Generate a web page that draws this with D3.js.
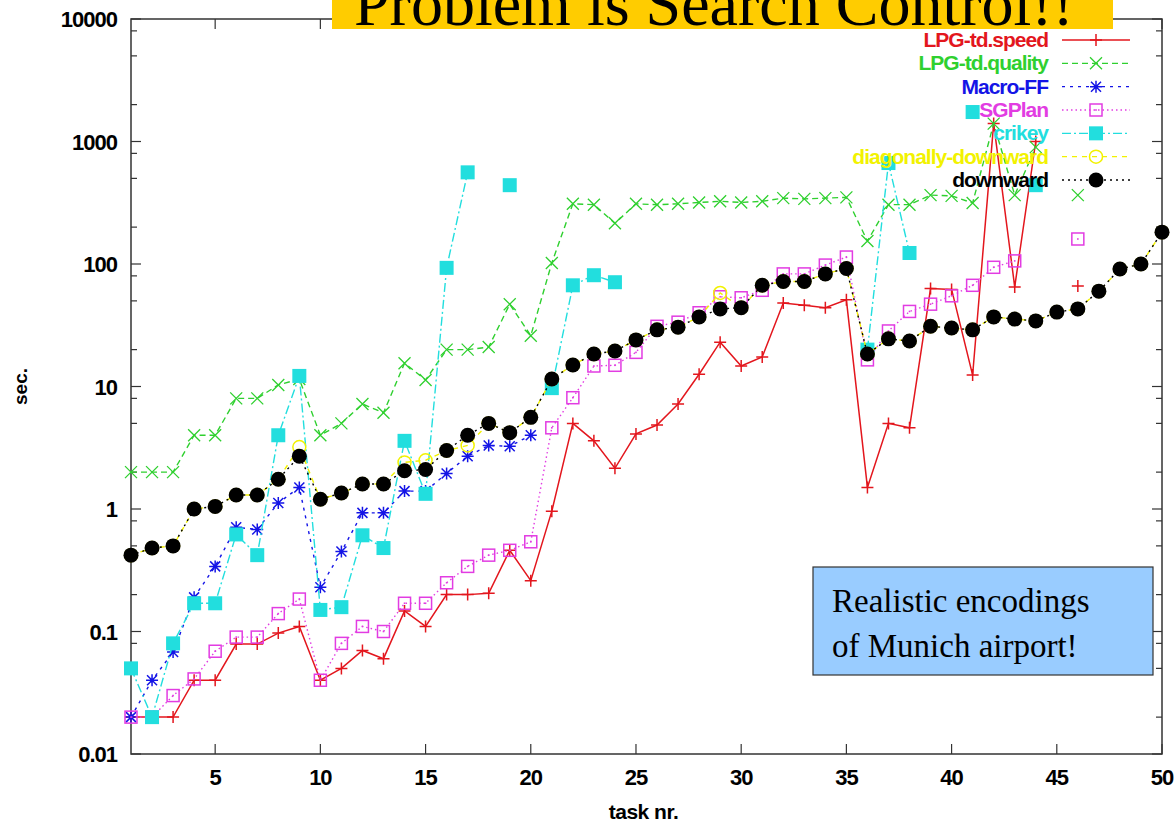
<!DOCTYPE html>
<html>
<head>
<meta charset="utf-8">
<script src="https://cdn.jsdelivr.net/npm/d3@7"></script>
<style>
  body { margin: 0; background: #fff; }
  svg { display: block; }
</style>
</head>
<body>
<div id="chart"></div>
<script>

/* DATA *******************************************************************/

var tasks = [1,2,3,4,5,6,7,8,9,10,11,12,13,14,15,16,17,18,19,20,21,22,23,24,25,
             26,27,28,29,30,31,32,33,34,35,36,37,38,39,40,41,42,43,44,45,46,47,48,49,50];

// null = task not solved
var lpgSpeed = [0.02,0.02,0.02,0.04,0.04,0.079,0.079,0.097,0.11,0.04,
                0.05,0.07,0.06,0.147,0.11,0.2,0.2,0.205,0.46,0.26,
                0.96,5.0,3.6,2.15,4.1,4.85,7.2,12.6,23,14.7,
                17.4,48,46,44,51,1.5,5.0,4.6,63,62,
                12.4,1400,65,1000,null,66,null,null,null,null];

var lpgQuality = [2,2,2,4,4,8,8,10.3,11.5,4,
                  5,7.2,6.1,15.5,11.3,20,20,21,47,26,
                  102,310,305,215,310,305,310,318,325,318,
                  325,345,340,345,350,154,305,305,365,360,
                  315,1400,365,900,null,365,null,null,null,null];

var macroFF = [0.02,0.04,0.068,0.19,0.34,0.71,0.68,1.12,1.5,0.23,
               0.45,0.93,0.93,1.4,1.4,1.95,2.7,3.3,3.25,4.0,
               null,null,null,null,null,null,null,null,null,null,
               null,null,null,null,null,null,null,null,null,null,
               null,null,null,null,null,null,null,null,null,null];

var sgPlan = [0.02,0.02,0.03,0.041,0.069,0.09,0.09,0.14,0.184,0.04,
              0.08,0.11,0.1,0.17,0.17,0.25,0.34,0.42,0.46,0.54,
              4.6,8.1,14.7,14.9,19,31,33.5,40,54,53,
              61,83,83,98,114,16.5,28.4,41,47,55,
              67,94,106,null,null,160,null,null,null,null];

var crikey = [0.05,0.02,0.08,0.17,0.17,0.62,0.42,4.0,12.2,0.15,
              0.158,0.61,0.48,3.6,1.33,93,560,null,440,null,
              9.7,67,81,71,null,null,null,null,null,null,
              null,null,null,null,null,20,667,123,null,null,
              1740,null,null,440,null,null,null,null,null,null];

var diagDownward = [0.42,0.48,0.5,1.0,1.05,1.3,1.3,1.75,3.2,1.2,
                    1.35,1.6,1.6,2.4,2.5,3.0,3.3,5.0,4.2,5.6,
                    11.5,15,18.4,19.5,24,29,30.5,37,58,44,
                    67,72,72,83,92,18.4,24.5,23.5,31,30,
                    29,37,35.5,34.3,40.5,43,60,91,100,182];

var downward = [0.42,0.48,0.5,1.0,1.05,1.3,1.3,1.75,2.7,1.2,
                1.35,1.6,1.6,2.05,2.1,3.0,4.0,5.0,4.2,5.6,
                11.5,15,18.4,19.5,24,29,30.5,37,43,44,
                67,72,72,83,92,18.4,24.5,23.5,31,30,
                29,37,35.5,34.3,40.5,43,60,91,100,182];

var seriesNames = ["LPG-td.speed","LPG-td.quality","Macro-FF","SGPlan","crikey","diagonally-downward","downward"];
var seriesValues = [lpgSpeed, lpgQuality, macroFF, sgPlan, crikey, diagDownward, downward];

var xTicks = [5,10,15,20,25,30,35,40,45,50];
var yTicks = [0.01,0.1,1,10,100,1000,10000];
var yTickLabels = ["0.01","0.1","1","10","100","1000","10000"];

/* STYLE ******************************************************************/

const width = 1174, height = 822;
const plotL = 131, plotR = 1162, plotT = 19, plotB = 754;
const sansFont = "'Liberation Sans', Arial, sans-serif";
const serifFont = "'Liberation Serif', 'Times New Roman', serif";

var styles = [
  {color: "#e3161d", dash: null,        marker: "plus"},
  {color: "#2fd02f", dash: "6,4",       marker: "cross"},
  {color: "#1414e6", dash: "3,5",       marker: "star"},
  {color: "#e23ce2", dash: "1.5,3",     marker: "square"},
  {color: "#22dede", dash: "9,3,2,3",   marker: "fsquare"},
  {color: "#f2f200", dash: "5,5",       marker: "circle"},
  {color: "#000000", dash: "2,4",       marker: "fcircle"}
];

/* SVG ********************************************************************/

var svg = d3.select("#chart").append("svg")
    .attr("width", width)
    .attr("height", height);

var x = d3.scaleLinear().domain([1, 50]).range([plotL, plotR]);
var y = d3.scaleLog().domain([0.01, 10000]).range([plotB, plotT]);

// frame
svg.append("rect")
    .attr("x", plotL).attr("y", plotT)
    .attr("width", plotR - plotL).attr("height", plotB - plotT)
    .attr("fill", "none").attr("stroke", "#333").attr("stroke-width", 1.5);

// y ticks (major + minor at 2,5,8), mirrored on both sides
var minorY = [];
yTicks.slice(0, -1).forEach(function(t) { [2,5,8].forEach(function(m) { minorY.push(t * m); }); });

var tickG = svg.append("g").attr("stroke", "#333").attr("stroke-width", 1.2);
yTicks.forEach(function(t) {
    tickG.append("line").attr("x1", plotL).attr("x2", plotL + 10).attr("y1", y(t)).attr("y2", y(t));
    tickG.append("line").attr("x1", plotR).attr("x2", plotR - 10).attr("y1", y(t)).attr("y2", y(t));
});
minorY.forEach(function(t) {
    tickG.append("line").attr("x1", plotL).attr("x2", plotL + 6).attr("y1", y(t)).attr("y2", y(t));
    tickG.append("line").attr("x1", plotR).attr("x2", plotR - 6).attr("y1", y(t)).attr("y2", y(t));
});
xTicks.forEach(function(t) {
    tickG.append("line").attr("x1", x(t)).attr("x2", x(t)).attr("y1", plotB).attr("y2", plotB - 10);
    tickG.append("line").attr("x1", x(t)).attr("x2", x(t)).attr("y1", plotT).attr("y2", plotT + 10);
});

// tick labels
svg.append("g").selectAll("text")
    .data(yTicks)
    .join("text")
    .attr("x", plotL - 14)
    .attr("y", function(d) { return y(d) + 8; })
    .attr("text-anchor", "end")
    .attr("font-family", sansFont).attr("font-weight", "bold")
    .attr("font-size", 22).attr("letter-spacing", -1)
    .text(function(d, i) { return yTickLabels[i]; });

svg.append("g").selectAll("text")
    .data(xTicks)
    .join("text")
    .attr("x", function(d) { return x(d); })
    .attr("y", plotB + 31)
    .attr("text-anchor", "middle")
    .attr("font-family", sansFont).attr("font-weight", "bold")
    .attr("font-size", 22).attr("letter-spacing", -1)
    .text(function(d) { return d; });

// axis titles
svg.append("text")
    .attr("transform", "translate(27," + ((plotT + plotB) / 2) + ") rotate(-90)")
    .attr("text-anchor", "middle")
    .attr("font-family", sansFont).attr("font-weight", "bold").attr("font-size", 19)
    .text("sec.");

svg.append("text")
    .attr("x", (plotL + plotR) / 2 - 3).attr("y", 819)
    .attr("text-anchor", "middle")
    .attr("font-family", sansFont).attr("font-weight", "bold").attr("font-size", 21)
    .attr("letter-spacing", -0.5)
    .text("task nr.");

/* MARKERS ****************************************************************/

function drawMarker(g, kind, cx, cy, color) {
    var s = 6;
    if (kind === "plus") {
        g.append("path").attr("d", "M" + (cx - s) + "," + cy + "H" + (cx + s) + "M" + cx + "," + (cy - s) + "V" + (cy + s))
            .attr("stroke", color).attr("stroke-width", 1.5).attr("fill", "none");
    } else if (kind === "cross") {
        g.append("path").attr("d", "M" + (cx - s) + "," + (cy - s) + "L" + (cx + s) + "," + (cy + s) + "M" + (cx - s) + "," + (cy + s) + "L" + (cx + s) + "," + (cy - s))
            .attr("stroke", color).attr("stroke-width", 1.3).attr("fill", "none");
    } else if (kind === "star") {
        g.append("path").attr("d", "M" + (cx - s) + "," + cy + "H" + (cx + s) + "M" + cx + "," + (cy - s) + "V" + (cy + s) +
                "M" + (cx - s + 1) + "," + (cy - s + 1) + "L" + (cx + s - 1) + "," + (cy + s - 1) + "M" + (cx - s + 1) + "," + (cy + s - 1) + "L" + (cx + s - 1) + "," + (cy - s + 1))
            .attr("stroke", color).attr("stroke-width", 1.5).attr("fill", "none");
    } else if (kind === "square") {
        g.append("rect").attr("x", cx - 6).attr("y", cy - 6).attr("width", 12).attr("height", 12)
            .attr("stroke", color).attr("stroke-width", 1.5).attr("fill", "none");
        g.append("rect").attr("x", cx - 0.8).attr("y", cy - 0.8).attr("width", 1.6).attr("height", 1.6).attr("fill", color);
    } else if (kind === "fsquare") {
        g.append("rect").attr("x", cx - 7).attr("y", cy - 7).attr("width", 14).attr("height", 14)
            .attr("fill", color);
    } else if (kind === "circle") {
        g.append("circle").attr("cx", cx).attr("cy", cy).attr("r", 6.5)
            .attr("stroke", color).attr("stroke-width", 1.5).attr("fill", "none");
    } else if (kind === "fcircle") {
        g.append("circle").attr("cx", cx).attr("cy", cy).attr("r", 7.5).attr("fill", color);
    }
}

/* SERIES *****************************************************************/

var line = d3.line()
    .defined(function(d) { return d.v !== null; })
    .x(function(d) { return x(d.t); })
    .y(function(d) { return y(d.v); });

seriesValues.forEach(function(vals, i) {
    var st = styles[i];
    var pts = tasks.map(function(t, j) { return {t: t, v: vals[j]}; });
    var g = svg.append("g");
    g.append("path")
        .datum(pts)
        .attr("d", line)
        .attr("fill", "none")
        .attr("stroke", st.color)
        .attr("stroke-width", i === 0 ? 1.5 : 1.4)
        .attr("stroke-dasharray", st.dash);
    pts.filter(function(d) { return d.v !== null; }).forEach(function(d) {
        drawMarker(g, st.marker, x(d.t), y(d.v), st.color);
    });
});

/* LEGEND *****************************************************************/

var legendY = d3.scalePoint().domain(seriesNames).range([40, 180]);
var legend = svg.append("g");
seriesNames.forEach(function(name, i) {
    var st = styles[i];
    var ly = legendY(name);
    legend.append("text")
        .attr("x", 1048).attr("y", ly + 7)
        .attr("text-anchor", "end")
        .attr("font-family", sansFont).attr("font-weight", "bold")
        .attr("font-size", 21).attr("letter-spacing", -1)
        .attr("fill", st.color)
        .text(name);
    legend.append("line")
        .attr("x1", 1062).attr("x2", 1130).attr("y1", ly).attr("y2", ly)
        .attr("stroke", st.color).attr("stroke-width", 1.4)
        .attr("stroke-dasharray", st.dash);
    drawMarker(legend, st.marker, 1096, ly, st.color);
});

/* SLIDE ANNOTATIONS *******************************************************/

svg.append("rect")
    .attr("x", 332).attr("y", 0).attr("width", 781).attr("height", 29)
    .attr("fill", "#ffcc00");
svg.append("text")
    .attr("x", 354).attr("y", 25)
    .attr("font-family", serifFont).attr("font-size", 64)
    .attr("fill", "#000")
    .text("Problem is Search Control!!");

svg.append("rect")
    .attr("x", 813).attr("y", 567).attr("width", 340).attr("height", 108)
    .attr("fill", "#99ccff").attr("stroke", "#333").attr("stroke-width", 1.2);
svg.append("text")
    .attr("x", 832).attr("y", 612)
    .attr("font-family", serifFont).attr("font-size", 33)
    .text("Realistic encodings");
svg.append("text")
    .attr("x", 832).attr("y", 657)
    .attr("font-family", serifFont).attr("font-size", 33)
    .text("of Munich airport!");

</script>
</body>
</html>
